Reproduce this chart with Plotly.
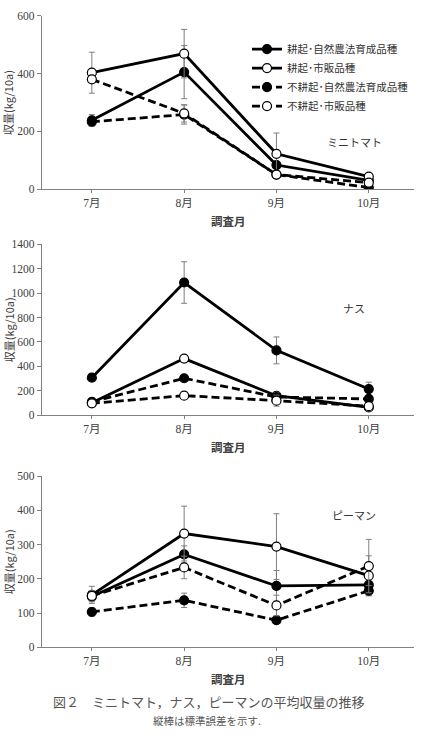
import plotly.graph_objects as go

months = ["7月", "8月", "9月", "10月"]
series_names = ["耕起･自然農法育成品種", "耕起･市販品種", "不耕起･自然農法育成品種", "不耕起･市販品種"]

# Mini tomato
tomato_vals = [
    [238, 405, 83, 30],
    [403, 469, 122, 43],
    [233, 258, 50, 5],
    [380, 262, 50, 22],
]
tomato_se = [
    [20, 92, 10, 5],
    [71, 84, 72, 8],
    [10, 33, 5, 3],
    [10, 30, 5, 5],
]
# Eggplant
nasu_vals = [
    [308, 1086, 531, 215],
    [102, 464, 160, 65],
    [110, 303, 150, 134],
    [98, 161, 120, 75],
]
nasu_se = [
    [30, 170, 110, 56],
    [15, 15, 25, 10],
    [15, 20, 20, 10],
    [10, 10, 45, 10],
]
# Green pepper
piman_vals = [
    [148, 271, 179, 182],
    [153, 332, 294, 209],
    [103, 137, 79, 165],
    [150, 233, 122, 237],
]
piman_se = [
    [15, 25, 45, 20],
    [25, 80, 96, 58],
    [12, 21, 8, 15],
    [15, 33, 30, 78],
]

crop_labels = ["ミニトマト", "ナス", "ピーマン"]
y_ranges = [[0, 600], [0, 1400], [0, 500]]
y_dticks = [200, 200, 100]

W, H = 424, 748
def py(px):
    return 1 - px / H

# plot areas in pixels (top, bottom)
areas = [(10, 186), (242, 416), (477.7, 651.7)]
x_left, x_right = 42, 414

styles = [
    dict(dash="solid", fill="black"),
    dict(dash="solid", fill="white"),
    dict(dash="8px,4px", fill="black"),
    dict(dash="8px,4px", fill="white"),
]

fig = go.Figure()
datasets = [(tomato_vals, tomato_se), (nasu_vals, nasu_se), (piman_vals, piman_se)]
xpos = [0, 1, 2, 3]
for k, (vals, ses) in enumerate(datasets):
    suffix = "" if k == 0 else str(k + 1)
    for i in range(4):
        st = styles[i]
        fig.add_trace(go.Scatter(
            x=xpos, y=vals[i], name=series_names[i],
            mode="lines+markers",
            line=dict(color="black", width=2.8, dash=st["dash"]),
            marker=dict(symbol="circle", size=9, color=st["fill"],
                        line=dict(color="black", width=1.2)),
            error_y=dict(type="data", array=ses[i], color="#7f7f7f",
                         thickness=1, width=3),
            xaxis="x" + suffix, yaxis="y" + suffix,
            showlegend=(k == 0),
        ))

tick_font = dict(family="Liberation Serif, Noto Sans CJK JP", size=11.5, color="#404040")

def ann(text, x, y, size, color, angle=0, family="Noto Sans CJK JP"):
    return dict(text=text, xref="paper", yref="paper", x=x, y=y,
                xanchor="center", yanchor="middle", textangle=angle,
                showarrow=False, font=dict(family=family, size=size, color=color))

layout = dict(
    width=W, height=H, margin=dict(l=0, r=0, t=0, b=0),
    paper_bgcolor="white", plot_bgcolor="white",
    font=dict(family="Noto Sans CJK JP", color="#333333"),
    legend=dict(x=247 / W, y=py(29), xanchor="left", yanchor="top",
                font=dict(family="Noto Sans CJK JP", size=10.5, color="#333333"),
                bgcolor="rgba(0,0,0,0)", itemwidth=30, tracegroupgap=0),
    annotations=[],
)
for k in range(3):
    suffix = "" if k == 0 else str(k + 1)
    top, bot = areas[k]
    layout["xaxis" + suffix] = dict(
        domain=[x_left / W, x_right / W], anchor="y" + suffix,
        range=[-0.54, 3.49], tickvals=xpos, ticktext=months,
        showline=True, linecolor="#808080", linewidth=1.2,
        ticks="outside", ticklen=3, tickcolor="#808080",
        showgrid=False, zeroline=False, tickfont=tick_font,
    )
    layout["yaxis" + suffix] = dict(
        domain=[py(bot), py(top)], anchor="x" + suffix,
        range=y_ranges[k], dtick=y_dticks[k],
        showline=True, linecolor="#808080", linewidth=1.2,
        ticks="outside", ticklen=4, tickcolor="#808080",
        showgrid=False, zeroline=False, tickfont=tick_font,
    )
    layout["annotations"].append(ann("収量(kg/10a)", 8.5 / W, py((top + bot) / 2), 11, "#404040", angle=-90))
    layout["annotations"].append(ann("<b>調査月</b>", (x_left + x_right) / 2 / W, py(bot + 32), 11.5, "#404040"))
    lbl_y = [138, 307, 517][k]
    layout["annotations"].append(ann(crop_labels[k], 354 / W, py(lbl_y), 11, "#333333"))

layout["annotations"].append(ann("図２　ミニトマト，ナス，ピーマンの平均収量の推移", 209 / W, py(707), 13, "#555555"))
layout["annotations"].append(ann("縦棒は標準誤差を示す.", 207 / W, py(726.5), 10.5, "#555555"))

fig.update_layout(**layout)
fig.write_html("out.html")
